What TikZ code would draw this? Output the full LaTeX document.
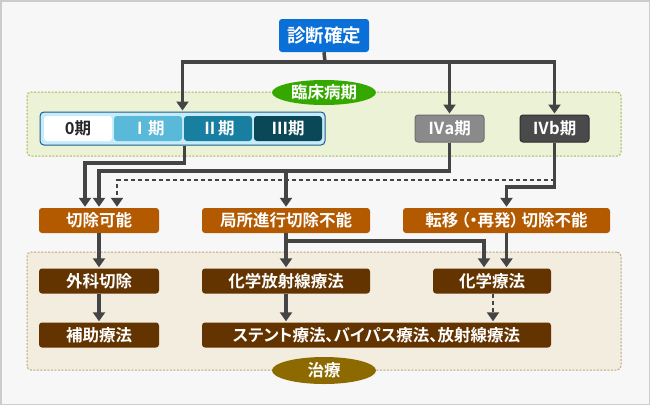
\documentclass[tikz,border=0pt]{standalone}
\usepackage{fontspec}
\setmainfont{Noto Sans CJK JP}[BoldFont={Noto Sans CJK JP Bold}]
\newfontfamily\paltfont{Noto Sans CJK JP}[BoldFont={Noto Sans CJK JP Bold},RawFeature=+palt]
\usetikzlibrary{arrows.meta,calc,shapes.geometric}
\definecolor{bgc}{HTML}{F7F7F7}
\definecolor{framec}{HTML}{CCCCCC}
\definecolor{linec}{HTML}{444444}
\definecolor{bluec}{HTML}{0A6FD6}
\definecolor{greenc}{HTML}{35A800}
\definecolor{gpanel}{HTML}{ECF2D6}
\definecolor{gpaneld}{HTML}{A3B55A}
\definecolor{tpanel}{HTML}{F3EDE0}
\definecolor{tpaneld}{HTML}{B8A77C}
\definecolor{olivec}{HTML}{8C6A00}
\definecolor{orangec}{HTML}{B35900}
\definecolor{brownc}{HTML}{633300}
\definecolor{barfill}{HTML}{C6ECFA}
\definecolor{bardraw}{HTML}{1D5D90}
\definecolor{s1c}{HTML}{5AB8D8}
\definecolor{s2c}{HTML}{187FA0}
\definecolor{s3c}{HTML}{0A4858}
\definecolor{ivac}{HTML}{8A8A8A}
\definecolor{ivad}{HTML}{6E6E6E}
\definecolor{ivbc}{HTML}{4A4A4A}
\definecolor{ivbd}{HTML}{2E2E2E}
\tikzset{
  lbl/.style={font=\bfseries\fontsize{16.5pt}{16.5pt}\selectfont, text=white, inner sep=0pt},
  boxbase/.style={lbl, rounded corners=3pt, minimum height=25pt},
  orangebox/.style={boxbase, fill=orangec},
  brownbox/.style={boxbase, fill=brownc},
  cell/.style={boxbase, minimum width=68pt},
  panelbox/.style={rounded corners=4pt, dashed, dash pattern=on 2pt off 1.5pt, line width=1pt},
  tag/.style={ellipse, lbl, font=\bfseries\fontsize{16.5pt}{16.5pt}\selectfont, minimum width=104pt},
  conn/.style={draw=linec, line width=3.5pt, line join=miter},
  arr/.style={conn, -{Triangle[width=12pt,length=9pt]}, shorten >=1pt},
  darr/.style={draw=linec, line width=2pt, dash pattern=on 4pt off 3pt, -{Triangle[width=12pt,length=9pt]}, shorten >=1pt},
}
\begin{document}
\begin{tikzpicture}[x=1pt,y=-1pt]
\useasboundingbox (0,0) rectangle (650,405);
\fill[bgc] (0,0) rectangle (650,405);
\draw[framec, line width=1.5pt] (0.75,0.75) rectangle (649.25,404.25);

% panels
\node[panelbox, fill=gpanel, draw=gpaneld, minimum width=594pt, minimum height=64pt] (stagepanel) at (324,124) {};
\node[panelbox, fill=tpanel, draw=tpaneld, minimum width=594pt, minimum height=118pt] (treatpanel) at (324,311) {};

% top
\node[boxbase, fill=bluec, minimum width=90pt, minimum height=33pt, font=\bfseries\fontsize{18.5pt}{18.5pt}\selectfont] (diag) at (324,35.5) {診断確定};
\coordinate (hub) at (325,62);

% stage bar
\node[rounded corners=4pt, fill=barfill, draw=bardraw, line width=1pt, minimum width=285pt, minimum height=33pt, inner sep=0pt] (bar) at (182.5,128.5) {};
\node[cell, fill=white, text=black!85] (s0) at (78,128.5) {0期};
\node[cell, fill=s1c] (s1) at (148,128.5) {Ⅰ期};
\node[cell, fill=s2c] (s2) at (218,128.5) {Ⅱ期};
\node[cell, fill=s3c] (s3) at (288,128.5) {Ⅲ期};
\node[boxbase, fill=ivac, draw=ivad, line width=1pt, minimum width=69pt, minimum height=27pt] (iva) at (449.5,128.5) {Ⅳa期};
\node[boxbase, fill=ivbc, draw=ivbd, line width=1pt, minimum width=69pt, minimum height=27pt] (ivb) at (554.5,128.5) {Ⅳb期};

\node[tag, fill=greenc, minimum height=25pt] (rinsho) at (324,92.5) {臨床病期};

% row 1
\node[orangebox, minimum width=120pt] (kajo) at (99,220.5) {切除可能};
\node[orangebox, minimum width=168pt] (kyoku) at (286,220.5) {局所進行切除不能};
\node[orangebox, minimum width=207pt] (tenni) at (506.5,220.5) {\paltfont\bfseries 転移\,（・再発）\,切除不能};

% row 2
\node[brownbox, minimum width=120pt] (geka) at (99,281) {外科切除};
\node[brownbox, minimum width=168pt] (kahou) at (286,281) {化学放射線療法};
\node[brownbox, minimum width=118pt] (kagaku) at (492,281) {化学療法};

% row 3
\node[brownbox, minimum width=120pt] (hojo) at (99,335) {補助療法};
\node[brownbox, minimum width=349pt] (stent) at (376.5,335) {\paltfont\bfseries ステント療法、バイパス療法、放射線療法};

\node[tag, fill=olivec, minimum height=27pt] (chiryo) at (324,370.5) {治療};

% connectors top
\draw[conn] (diag.south) -- (hub);
\draw[arr] (hub) -| (bar.north);
\draw[arr] (hub) -| (iva.north);
\draw[arr] (hub) -| (ivb.north);

% connectors middle
\coordinate (kL) at ($(kajo.north)+(-14,0)$);
\coordinate (kR) at ($(kajo.north)+(18,0)$);
\coordinate (barout) at ($(bar.south)+(2,0)$);
\draw[arr] (barout) -- (barout |- 0,163) -| (kL);
\coordinate (ivaj) at (iva.south |- 0,171);
\draw[arr] (iva.south) -- (ivaj) -| (kajo.north);
\draw[arr] (kyoku.north |- ivaj) -- (kyoku.north);
\draw[darr] (ivb.south |- 0,180) -| (kR);
\draw[arr] (ivb.south) -- (ivb.south |- 0,187) -| (tenni.north);

% connectors bottom
\coordinate (kagakuin) at ($(kagaku.north)+(-8,0)$);
\coordinate (kgs) at ($(kagaku.south)+(1,0)$);
\draw[arr] (kajo.south) -- (geka.north);
\draw[arr] (geka.south) -- (hojo.north);
\draw[arr] (kyoku.south) -- (kahou.north);
\draw[arr] (kyoku.south |- 0,241) -| (kagakuin);
\draw[arr] (tenni.south) -- (tenni.south |- kagaku.north);
\draw[arr] (kahou.south) -- (kahou.south |- stent.north);
\draw[darr] (kgs) -- (kgs |- stent.north);
\end{tikzpicture}
\end{document}
